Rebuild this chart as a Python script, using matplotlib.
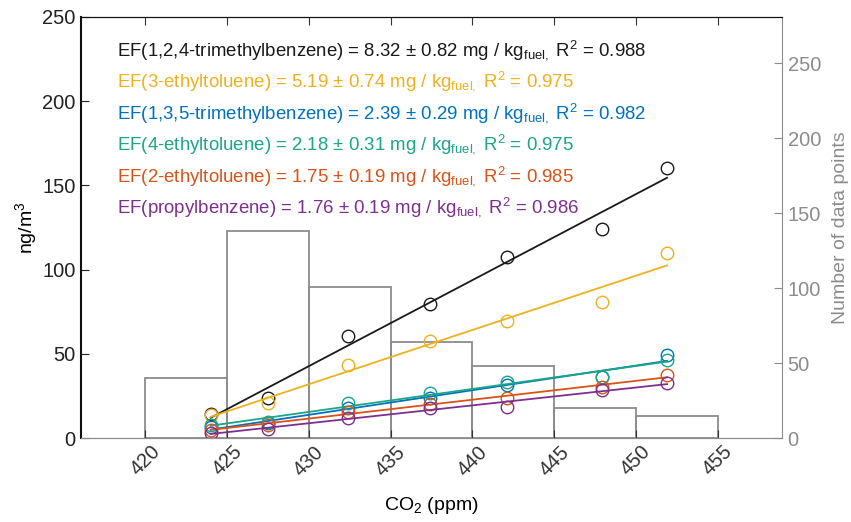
import numpy as np
import matplotlib
matplotlib.use('Agg')
import matplotlib.pyplot as plt

plt.rcParams['font.family'] = ['Liberation Sans', 'DejaVu Sans']
plt.rcParams['mathtext.fontset'] = 'custom'
plt.rcParams['mathtext.rm'] = 'Liberation Sans'
plt.rcParams['mathtext.it'] = 'Liberation Sans:italic'

##########################################################
# data

co2 = [424.0, 427.5, 432.4, 437.4, 442.1, 447.9, 451.9]

tmb124 = [14.0, 24.0, 60.7, 79.5, 107.5, 124.2, 160.5]
etol3 = [13.7, 20.6, 43.5, 57.5, 69.2, 80.5, 109.8]
tmb135 = [6.5, 9.0, 17.7, 24.0, 31.5, 36.0, 49.4]
etol4 = [7.5, 9.5, 20.6, 27.0, 33.5, 36.5, 46.4]
etol2 = [5.0, 8.0, 15.7, 20.0, 23.6, 30.5, 37.5]
propbz = [3.0, 5.5, 11.7, 17.7, 18.7, 28.6, 32.6]

hist_edges = [420, 425, 430, 435, 440, 445, 450, 455]
hist_counts = [40, 138, 101, 64, 48, 20, 15]

labels = ['EF(1,2,4-trimethylbenzene) = 8.32 ± 0.82 mg / kg$_{\\mathregular{fuel},}$ R$^{\\mathregular{2}}$ = 0.988',
          'EF(3-ethyltoluene) = 5.19 ± 0.74 mg / kg$_{\\mathregular{fuel},}$ R$^{\\mathregular{2}}$ = 0.975',
          'EF(1,3,5-trimethylbenzene) = 2.39 ± 0.29 mg / kg$_{\\mathregular{fuel},}$ R$^{\\mathregular{2}}$ = 0.982',
          'EF(4-ethyltoluene) = 2.18 ± 0.31 mg / kg$_{\\mathregular{fuel},}$ R$^{\\mathregular{2}}$ = 0.975',
          'EF(2-ethyltoluene) = 1.75 ± 0.19 mg / kg$_{\\mathregular{fuel},}$ R$^{\\mathregular{2}}$ = 0.985',
          'EF(propylbenzene) = 1.76 ± 0.19 mg / kg$_{\\mathregular{fuel},}$ R$^{\\mathregular{2}}$ = 0.986']

series = [tmb124, etol3, tmb135, etol4, etol2, propbz]
colors = ['#1a1a1a', '#EDB120', '#0072BD', '#1BA58A', '#D95319', '#7E2F8E']

##########################################################
# figure

fig = plt.figure(figsize=(8.51, 5.22), dpi=100)
ax1 = fig.add_axes([81/851, 1-438/522, 701/851, 421/522])
ax2 = ax1.twinx()
grey = '#8c8c8c'

# histogram on right axis
edges = np.array(hist_edges)
centers = (edges[:-1] + edges[1:]) / 2
ax2.bar(centers, hist_counts, width=np.diff(edges), fill=False,
        edgecolor=grey, linewidth=1.3)
ax2.set_ylim(0, 280.7)
ax2.set_yticks([0, 50, 100, 150, 200, 250])
ax2.tick_params(axis='y', direction='in', length=6, colors=grey,
                labelsize=14.5, pad=4)
ax2.set_ylabel('Number of data points', color=grey, fontsize=14, labelpad=8)

# scatter + fit on left axis
x = np.array(co2)
for vals, c in zip(series, colors):
    y = np.array(vals)
    ax1.plot(x, y, 'o', mfc='none', mec=c, ms=9, mew=1.0)
    p = np.polyfit(x, y, 1)
    xf = np.array([x.min(), x.max()])
    ax1.plot(xf, np.polyval(p, xf), '-', color=c, lw=1.3)

for i, (lab, c) in enumerate(zip(labels, colors)):
    ax1.text(0.051, 0.9216 - i*0.0748, lab, color=c, fontsize=13.4,
             transform=ax1.transAxes, va='center', ha='left')

ax1.set_zorder(ax2.get_zorder() + 1)
ax1.patch.set_visible(False)

ax1.set_xlim(416.07, 458.93)
ax1.set_ylim(0, 250)
ax1.set_xticks([420, 425, 430, 435, 440, 445, 450, 455])
ax1.set_yticks([0, 50, 100, 150, 200, 250])
ax1.tick_params(axis='y', direction='in', length=6, labelsize=14.5, pad=4,
                colors='#222222')
ax1.tick_params(axis='x', direction='in', length=6, labelsize=14.5,
                top=True, colors='#333333', labelrotation=45, pad=3)
ax1.set_ylabel('ng/m$^{\\mathregular{3}}$', fontsize=14, labelpad=2)
ax1.set_xlabel('CO$_{\\mathregular{2}}$ (ppm)', fontsize=14, labelpad=11)

ax1.spines['left'].set_linewidth(1.5)
ax1.spines['left'].set_color('#111111')
ax1.spines['top'].set_color('#111111')
ax1.spines['bottom'].set_color(grey)
ax2.spines['right'].set_color(grey)
ax2.spines['bottom'].set_color(grey)
ax2.spines['left'].set_visible(False)
ax1.spines['right'].set_visible(False)

fig.savefig('out.png', dpi=100)
